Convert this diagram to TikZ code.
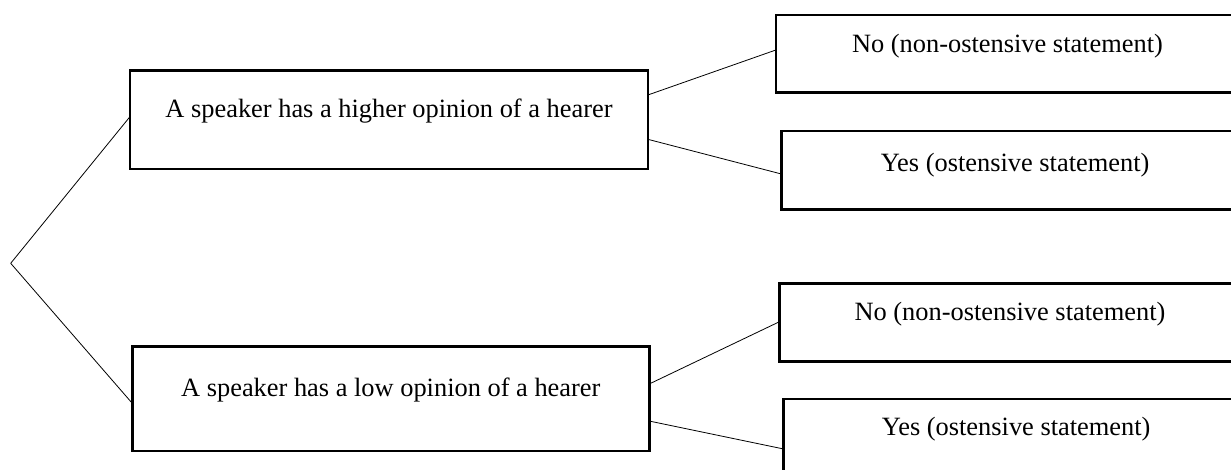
\documentclass[tikz,border=0pt]{standalone}
\usepackage{fontspec}
\setmainfont{Liberation Serif}
\begin{document}
\begin{tikzpicture}[x=1pt, y=-1pt,
  box/.style={draw, line width=2.6pt, inner sep=0pt, outer sep=0pt, anchor=north west,
    font=\fontsize{26.4}{30}\selectfont}]
  \useasboundingbox (0,0) rectangle (1231,470);
  \clip (0,0) rectangle (1231,470);
  \node[box, minimum width=518pt, text height=47pt, text depth=51.3pt] (high) at (130,70.7)
    {A speaker has a higher opinion of a hearer};
  \node[box, minimum width=517pt, text height=50pt, text depth=54.3pt] (low) at (132.3,346.7)
    {A speaker has a low opinion of a hearer};
  \node[box, minimum width=463pt, text height=37.3pt, text depth=40.4pt] (highno) at (776,15)
    {No (non-ostensive statement)};
  \node[box, minimum width=467pt, text height=40.7pt, text depth=37.6pt] (highyes) at (781.6,131)
    {Yes (ostensive statement)};
  \node[box, minimum width=461pt, text height=36.7pt, text depth=41.7pt] (lowno) at (779.5,283.3)
    {No (non-ostensive statement)};
  \node[box, minimum width=465pt, text height=36pt, text depth=42pt] (lowyes) at (783.7,399)
    {Yes (ostensive statement)};
  \coordinate (root) at (10.7,263.3);
  \path[line width=0.8pt]
  (root) edge ([yshift=3.2pt]high.west)
  edge ([yshift=-4.5pt]low.west)
  ([yshift=24.9pt]high.east) edge ([yshift=3.9pt]highno.west)
  ([yshift=-19.5pt]high.east) edge ([yshift=-3.9pt]highyes.west)
  ([yshift=14.9pt]low.east) edge ([yshift=0.8pt]lowno.west)
  ([yshift=-22.2pt]low.east) edge ([yshift=-11pt]lowyes.west);
\end{tikzpicture}
\end{document}
